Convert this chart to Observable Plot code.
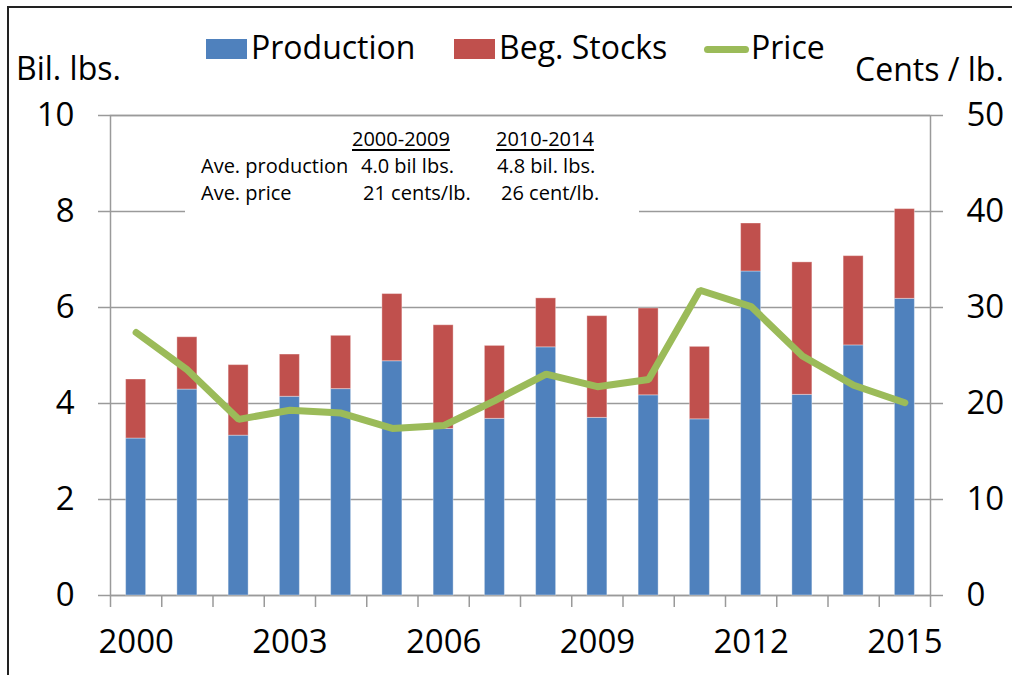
<!DOCTYPE html>
<html>
<head>
<meta charset="utf-8">
<script src="https://cdn.jsdelivr.net/npm/d3@7"></script>
<script src="https://cdn.jsdelivr.net/npm/@observablehq/plot@0.6"></script>
<style>
  html, body { margin: 0; padding: 0; background: #fff; overflow: hidden; }
  #wrap { position: relative; width: 1012px; height: 675px; font-family: "Open Sans", sans-serif; color: #000; }
  #wrap svg { position: absolute; left: 0; top: 0; }
  .ov { position: absolute; white-space: nowrap; line-height: 1; }
  .frame { position: absolute; left: 7px; top: 6px; right: -10px; bottom: -10px; border-top: 2px solid #222; border-left: 2px solid #222; }
  .lg { font-size: 32px; top: 30.6px; }
  .unit { font-size: 32px; }
  .ann { font-size: 20px; }
  .u { text-decoration: underline; text-underline-offset: 3px; text-decoration-thickness: 1.5px; }
  .box { position: absolute; left: 185px; top: 122px; width: 454px; height: 92px; background: #fff; }
</style>
</head>
<body>
<div id="wrap"></div>
<script>
const years = [2000, 2001, 2002, 2003, 2004, 2005, 2006, 2007, 2008, 2009, 2010, 2011, 2012, 2013, 2014, 2015];
const production = [3.27, 4.29, 3.33, 4.14, 4.30, 4.88, 3.47, 3.68, 5.17, 3.70, 4.17, 3.67, 6.75, 4.18, 5.21, 6.18];
const begStocks  = [1.23, 1.09, 1.47, 0.88, 1.11, 1.40, 2.16, 1.52, 1.02, 2.12, 1.81, 1.51, 1.00, 2.76, 1.86, 1.87];
const price      = [27.4, 23.5, 18.35, 19.3, 19.0, 17.4, 17.7, 20.3, 23.07, 21.75, 22.5, 31.8, 30.1, 24.95, 21.9, 20.08];
const leftTicks  = [0, 2, 4, 6, 8, 10];
const yearLabels = [2000, 2003, 2006, 2009, 2012, 2015];
const seriesNames = ["Production", "Beg. Stocks"];
const priceRatio = 5; // right axis (cents/lb) = left axis value * 5

const blue = "#4F81BD", red = "#C0504D", green = "#9BBB59", gray = "#9a9a9a";

const barRows = [];
years.forEach((yr, i) => {
  barRows.push({year: yr, series: seriesNames[0], value: production[i]});
  barRows.push({year: yr, series: seriesNames[1], value: begStocks[i]});
});
const priceRows = years.map((yr, i) => ({year: yr, price: price[i]}));

const W = 1012, H = 675, mL = 110, mR = 82, mT = 115, mB = 80;
const step = (W - mL - mR) / years.length;

const chart = Plot.plot({
  width: W, height: H,
  marginTop: mT, marginBottom: mB, marginLeft: mL, marginRight: mR,
  style: {fontFamily: "'Open Sans', sans-serif", color: "#000", background: "transparent", overflow: "visible"},
  x: {type: "band", domain: years, paddingInner: 0.61, paddingOuter: 0.305, round: false, axis: null},
  y: {domain: [0, 10], axis: null},
  color: {domain: seriesNames, range: [blue, red]},
  marks: [
    Plot.ruleY(leftTicks, {stroke: gray, strokeWidth: 1.5}),
    Plot.frame({stroke: gray, strokeWidth: 1.5}),
    Plot.axisY({anchor: "left", ticks: leftTicks, tickSize: 12, tickPadding: 24, label: null, fontSize: 33, stroke: gray, strokeWidth: 1.5}),
    Plot.axisY({anchor: "right", ticks: leftTicks, tickFormat: d => String(d * priceRatio), tickSize: 12, tickPadding: 24, label: null, fontSize: 33, stroke: gray, strokeWidth: 1.5}),
    Plot.axisX({ticks: years, tickSize: 12, tickFormat: () => "", dx: -step / 2, stroke: gray, strokeWidth: 1.5, label: null}),
    Plot.axisX({ticks: [years[years.length - 1]], tickSize: 12, tickFormat: () => "", dx: step / 2, stroke: gray, strokeWidth: 1.5, label: null}),
    Plot.axisX({ticks: yearLabels, tickSize: 0, tickPadding: 34, fontSize: 33, tickFormat: d => String(d), label: null}),
    Plot.barY(barRows, {x: "year", y: "value", fill: "series", order: seriesNames, stroke: "#fff", strokeOpacity: 0.35, strokeWidth: 1}),
    Plot.line(priceRows, {x: "year", y: d => d.price / priceRatio, stroke: green, strokeWidth: 7, strokeLinecap: "round", strokeLinejoin: "miter"})
  ]
});

const wrap = document.getElementById("wrap");
wrap.appendChild(chart);

function ov(html, cls, left, top, extra) {
  const d = document.createElement("div");
  d.className = "ov " + cls;
  d.style.left = left + "px";
  if (top !== null) d.style.top = top + "px";
  if (extra) Object.assign(d.style, extra);
  d.innerHTML = html;
  wrap.appendChild(d);
  return d;
}
const box = document.createElement("div");
box.className = "box";
wrap.appendChild(box);

// legend
ov("", "", 206, 39, {width: "41px", height: "20px", background: blue});
ov(seriesNames[0], "lg", 251, null);
ov("", "", 454, 39, {width: "41px", height: "20px", background: red});
ov(seriesNames[1], "lg", 499, null);
ov("", "", 704, 46, {width: "45px", height: "7px", background: green, borderRadius: "4px"});
ov("Price", "lg", 751, null);

// axis unit labels
ov("Bil. lbs.", "unit", 16, 80 - 0.888 * 32);
ov("Cents / lb.", "unit", 855, 81 - 0.888 * 32);

// annotation
const r1 = 146.7 - 17.8, r2 = 174 - 17.8, r3 = 201 - 17.8;
ov("2000-2009", "ann u", 352, r1);
ov("2010-2014", "ann u", 496, r1);
ov("Ave. production", "ann", 201, r2);
ov("4.0 bil lbs.", "ann", 361, r2);
ov("4.8 bil. lbs.", "ann", 497, r2);
ov("Ave. price", "ann", 201, r3);
ov("21 cents/lb.", "ann", 363, r3);
ov("26 cent/lb.", "ann", 501, r3);

const fr = document.createElement("div");
fr.className = "frame";
wrap.appendChild(fr);
</script>
</body>
</html>
